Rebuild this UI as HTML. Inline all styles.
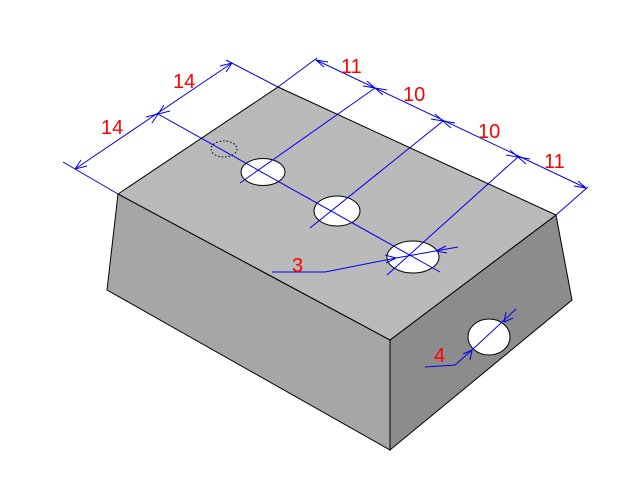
<!DOCTYPE html><html><head><style>body{margin:0;background:#fff}svg{display:block}</style></head><body>
<svg width="640" height="480" viewBox="0 0 640 480" xmlns="http://www.w3.org/2000/svg">
<polygon points="118,194 390,340 390,450 107,290" fill="#a6a6a6" stroke="#000" stroke-width="1"/>
<polygon points="390,340 556,215 572,300 390,450" fill="#8c8c8c" stroke="#000" stroke-width="1"/>
<polygon points="118,194 278,87 556,215 390,340" fill="#bababa" stroke="#000" stroke-width="1"/>
<ellipse cx="263" cy="172" rx="22" ry="13.5" fill="#fff" stroke="#000"/>
<ellipse cx="337" cy="211" rx="23" ry="15" fill="#fff" stroke="#000"/>
<ellipse cx="413" cy="257" rx="26" ry="16" fill="#fff" stroke="#000"/>
<ellipse cx="489" cy="337" rx="21" ry="18" fill="#fff" stroke="#000"/>
<ellipse cx="224" cy="149" rx="13" ry="8" fill="none" stroke="#000" stroke-dasharray="1.5,2"/>
<g stroke="#0000ee" stroke-width="1" fill="none">
<line x1="63" y1="162" x2="118" y2="194"/>
<line x1="226" y1="60" x2="278" y2="87"/>
<line x1="75" y1="169" x2="232" y2="63"/>
<line x1="158" y1="114" x2="440" y2="272"/>
<line x1="317" y1="58" x2="278" y2="87"/>
<line x1="316" y1="60" x2="586" y2="188"/>
<line x1="556" y1="215" x2="588" y2="187"/>
<line x1="240" y1="183" x2="375" y2="88"/>
<line x1="310" y1="228" x2="443" y2="121"/>
<line x1="387" y1="275" x2="518" y2="157"/>
<polyline points="272,272 325,272 396,258"/>
<line x1="396" y1="258" x2="458" y2="247"/>
<polyline points="425,367 455,365 472,350"/>
<line x1="472" y1="350" x2="516" y2="309"/>
<path d="M75,169 l12,-3 M75,169 l6,-9 M158,114 l-12,3 M158,114 l-6,9 M158,114 l12,-3 M158,114 l6,-9 M232,63 l-12,3 M232,63 l-6,9"/>
<path d="M316,60 l12,2 M316,60 l8,7 M375,88 l-12,-2 M375,88 l-8,-7 M375,88 l12,2 M375,88 l8,7 M443,121 l-12,-2 M443,121 l-8,-7 M443,121 l12,2 M443,121 l8,7 M518,157 l-12,-2 M518,157 l-8,-7 M518,157 l12,2 M518,157 l8,7 M586,188 l-12,-2 M586,188 l-8,-7"/>
<path d="M396,258 l-11,-3 M396,258 l-10,5 M436,251 l10,-5 M436,251 l11,2 M472,350 l-2,10 M472,350 l-9,4 M504,322 l2,-10 M504,322 l9,-4"/>
</g>
<g fill="#ff0000" font-family="Liberation Sans, sans-serif" font-size="20">
<text x="173" y="88">14</text><text x="101" y="134">14</text>
<text x="341" y="73">11</text><text x="403" y="101">10</text>
<text x="478" y="138">10</text><text x="544" y="168">11</text>
<text x="292" y="272">3</text><text x="434" y="362">4</text>
</g>
</svg></body></html>
